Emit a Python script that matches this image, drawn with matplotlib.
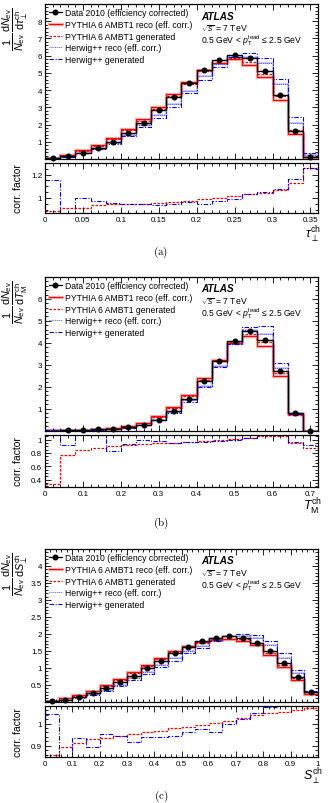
import numpy as np
import matplotlib
matplotlib.use('Agg')
import matplotlib.pyplot as plt
from matplotlib.ticker import MultipleLocator

plt.rcParams['font.family'] = ['Liberation Sans', 'DejaVu Sans']
plt.rcParams['mathtext.fontset'] = 'custom'
plt.rcParams['mathtext.rm'] = 'Liberation Sans'
plt.rcParams['mathtext.it'] = 'Liberation Sans:italic'
plt.rcParams['mathtext.bf'] = 'Liberation Sans:bold'

# ---- (a) transverse thrust tau_perp, 18 bins of 0.02
edges_a = np.linspace(0, 0.36, 19)
data_a = [0.04, 0.15, 0.37, 0.62, 1.0, 1.5, 2.1, 2.82, 3.61, 4.39, 5.15, 5.72, 6.02, 5.84, 5.13, 3.73, 1.64, 0.14]
py_reco_a = [0.06, 0.25, 0.5, 0.8, 1.22, 1.75, 2.35, 3.03, 3.76, 4.48, 5.17, 5.57, 5.8, 5.45, 4.75, 3.44, 1.47, 0.1]
py_gen_a = [0.053, 0.23, 0.46, 0.75, 1.15, 1.66, 2.23, 2.9, 3.63, 4.36, 5.11, 5.57, 5.88, 5.61, 4.95, 3.67, 1.66, 0.13]
hw_reco_a = [0.05, 0.17, 0.33, 0.58, 0.92, 1.38, 1.95, 2.55, 3.2, 3.95, 4.8, 5.5, 5.95, 5.95, 5.6, 4.35, 2.1, 0.26]
hw_gen_a = [0.058, 0.145, 0.33, 0.565, 0.88, 1.31, 1.84, 2.4, 3.04, 3.82, 4.56, 5.36, 5.91, 6.13, 5.89, 4.67, 2.44, 0.33]
corr_py_a = [0.89, 0.914, 0.914, 0.937, 0.946, 0.95, 0.95, 0.957, 0.966, 0.974, 0.989, 1.0, 1.014, 1.03, 1.043, 1.066, 1.13, 1.26]
corr_hw_a = [1.157, 0.85, 1.0, 0.974, 0.957, 0.95, 0.946, 0.943, 0.951, 0.966, 0.951, 0.974, 0.994, 1.03, 1.051, 1.074, 1.16, 1.26]

# ---- (b) thrust minor T_M, 18 bins of 0.04
edges_b = np.linspace(0, 0.72, 19)
data_b = [np.nan, 0.03, 0.03, 0.05, 0.08, 0.14, 0.26, 0.5, 0.88, 1.45, 2.24, 3.17, 4.06, 4.53, 4.12, 2.73, 0.82, 0.0]
py_reco_b = [0.01, 0.02, 0.03, 0.05, 0.1, 0.2, 0.36, 0.66, 1.06, 1.62, 2.38, 3.22, 4.0, 4.3, 3.85, 2.48, 0.75, 0.0]
py_gen_b = [0.003, 0.015, 0.025, 0.044, 0.09, 0.18, 0.34, 0.63, 1.01, 1.56, 2.32, 3.19, 4.02, 4.41, 4.04, 2.6, 0.71, 0.0]
hw_reco_b = [0.01, 0.02, 0.03, 0.04, 0.07, 0.12, 0.24, 0.48, 0.84, 1.38, 2.05, 2.95, 3.95, 4.6, 4.4, 2.85, 0.78, 0.0]
hw_gen_b = [0.012, 0.018, 0.033, 0.043, 0.058, 0.11, 0.24, 0.47, 0.8, 1.32, 1.99, 2.9, 3.95, 4.7, 4.75, 3.08, 0.75, 0.0]
corr_py_b = [0.34, 0.77, 0.84, 0.88, 0.9, 0.92, 0.94, 0.95, 0.955, 0.965, 0.975, 0.99, 1.005, 1.025, 1.05, 1.05, 0.945, 0.875]
corr_hw_b = [1.2, 0.92, 1.1, 1.07, 0.83, 0.935, 1.0, 0.975, 0.95, 0.96, 0.97, 0.985, 1.0, 1.02, 1.08, 1.08, 0.96, 0.92]

# ---- (c) transverse sphericity S_perp, 20 bins of 0.05
edges_c = np.linspace(0, 1.0, 21)
data_c = [0.01, 0.06, 0.13, 0.26, 0.39, 0.57, 0.77, 0.98, 1.2, 1.43, 1.62, 1.78, 1.89, 1.93, 1.87, 1.73, 1.48, 1.15, 0.72, 0.28]
py_reco_c = [0.03, 0.12, 0.2, 0.33, 0.49, 0.68, 0.88, 1.09, 1.3, 1.48, 1.63, 1.75, 1.83, 1.84, 1.8, 1.66, 1.38, 1.03, 0.65, 0.22]
py_gen_c = [0.026, 0.11, 0.18, 0.31, 0.46, 0.64, 0.84, 1.05, 1.26, 1.45, 1.61, 1.74, 1.84, 1.86, 1.85, 1.72, 1.44, 1.08, 0.69, 0.24]
hw_reco_c = [0.03, 0.06, 0.13, 0.23, 0.34, 0.5, 0.7, 0.88, 1.08, 1.28, 1.5, 1.63, 1.87, 1.93, 1.95, 1.88, 1.66, 1.3, 0.84, 0.3]
hw_gen_c = [0.031, 0.05, 0.12, 0.21, 0.32, 0.47, 0.64, 0.83, 1.02, 1.21, 1.44, 1.59, 1.8, 1.93, 1.99, 1.97, 1.79, 1.43, 0.92, 0.33]
corr_py_c = [0.861, 0.897, 0.915, 0.93, 0.937, 0.945, 0.952, 0.96, 0.967, 0.978, 0.985, 0.993, 1.003, 1.013, 1.025, 1.037, 1.046, 1.052, 1.061, 1.07]
corr_hw_c = [1.045, 0.84, 0.936, 0.897, 0.955, 0.945, 0.918, 0.94, 0.94, 0.945, 0.96, 0.975, 0.96, 1.0, 1.022, 1.049, 1.076, 1.1, 1.1, 1.1]

leg_labels = ['Data 2010 (efficiency corrected)', 'PYTHIA 6 AMBT1 reco (eff. corr.)',
              'PYTHIA 6 AMBT1 generated', 'Herwig++ reco (eff. corr.)', 'Herwig++ generated']

W, H = 329., 804.
RED, BLUE = '#ff0000', '#0000ff'
PINK, LBLUE = '#f7b0b0', '#a8a8ff'
py_gen_ls = (0, (2.0, 1.2))
hw_reco_ls = (0, (1.0, 1.0))
hw_gen_ls = (0, (4.0, 1.5, 1.0, 1.5))

panels = [
    dict(edges=edges_a, data=data_a, pyr=py_reco_a, pyg=py_gen_a, hwr=hw_reco_a, hwg=hw_gen_a,
         cpy=corr_py_a, chw=corr_hw_a, main=(5, 160), ratio=(164, 214),
         ylim=(0, 9), yticks=np.arange(1, 9), ymin=0.2, rylim=(0.87, 1.30), ryticks=[1, 1.2], rymin=0.05,
         xmaj=0.05, xmin=0.01, xt=[0, 0.05, 0.1, 0.15, 0.2, 0.25, 0.3, 0.35],
         xtl=['0', '0.05', '0.1', '0.15', '0.2', '0.25', '0.3', '0.35'],
         var=r'\tau_{\perp}^{\mathrm{ch}}', xlab=r'$\tau_{\perp}^{\mathrm{ch}}$', tag='(a)', tagy=252, xlaby=235),
    dict(edges=edges_b, data=data_b, pyr=py_reco_b, pyg=py_gen_b, hwr=hw_reco_b, hwg=hw_gen_b,
         cpy=corr_py_b, chw=corr_hw_b, main=(278, 431.5), ratio=(435.5, 488),
         ylim=(0, 7), yticks=np.arange(1, 7), ymin=0.2, rylim=(0.29, 1.075), ryticks=[0.4, 0.6, 0.8, 1], rymin=0.05,
         xmaj=0.1, xmin=0.02, xt=[0, 0.1, 0.2, 0.3, 0.4, 0.5, 0.6, 0.7],
         xtl=['0', '0.1', '0.2', '0.3', '0.4', '0.5', '0.6', '0.7'],
         var=r'T_{\mathrm{M}}^{\mathrm{ch}}', xlab=r'$T_{\mathrm{M}}^{\mathrm{ch}}$', tag='(b)', tagy=523, xlaby=507),
    dict(edges=edges_c, data=data_c, pyr=py_reco_c, pyg=py_gen_c, hwr=hw_reco_c, hwg=hw_gen_c,
         cpy=corr_py_c, chw=corr_hw_c, main=(550, 702.7), ratio=(706.7, 758),
         ylim=(0, 4.5), yticks=[0.5, 1, 1.5, 2, 2.5, 3, 3.5, 4], ymin=0.1, rylim=(0.85, 1.08), ryticks=[0.9, 1], rymin=0.02,
         xmaj=0.1, xmin=0.02, xt=[0, 0.1, 0.2, 0.3, 0.4, 0.5, 0.6, 0.7, 0.8, 0.9, 1.0],
         xtl=['0', '0.1', '0.2', '0.3', '0.4', '0.5', '0.6', '0.7', '0.8', '0.9', '1'],
         var=r'S_{\perp}^{\mathrm{ch}}', xlab=r'$S_{\perp}^{\mathrm{ch}}$', tag='(c)', tagy=796, xlaby=777),
]

x0, x1 = 45., 318.

def rect(top, bot):
    return [x0 / W, 1 - bot / H, (x1 - x0) / W, (bot - top) / H]

def style(ax):
    ax.tick_params(which='both', direction='in', top=True, right=True, width=0.6, labelsize=5.8, pad=2)
    ax.tick_params(which='major', length=4.5)
    ax.tick_params(which='minor', length=2.3)
    for s in ax.spines.values():
        s.set_linewidth(0.9)

fig = plt.figure(figsize=(W / 100, H / 100), dpi=100)

for p in panels:
    e = p['edges']
    centers = 0.5 * (e[:-1] + e[1:])
    ax = fig.add_axes(rect(*p['main']))
    ax.stairs(p['pyr'], e, baseline=None, color=PINK, lw=2.4)
    ax.stairs(p['hwr'], e, baseline=None, color=LBLUE, lw=1.6, alpha=0.6)
    ax.stairs(p['pyr'], e, baseline=None, color=RED, lw=0.8)
    ax.stairs(p['pyg'], e, baseline=None, color=RED, lw=0.9, ls=py_gen_ls)
    ax.stairs(p['hwr'], e, baseline=None, color='#5050ff', lw=0.7, ls=hw_reco_ls)
    ax.stairs(p['hwg'], e, baseline=None, color=BLUE, lw=0.8, ls=hw_gen_ls)
    ax.stairs(np.nan_to_num(p['data']), e, baseline=None, color='k', lw=1.0)
    ax.plot(centers, p['data'], 'o', color='k', ms=3.3, clip_on=False, zorder=5)
    ax.set_xlim(e[0], e[-1])
    ax.set_ylim(*p['ylim'])
    ax.set_yticks(p['yticks'])
    ax.set_yticklabels([('%g' % v) for v in p['yticks']])
    ax.yaxis.set_minor_locator(MultipleLocator(p['ymin']))
    ax.xaxis.set_major_locator(MultipleLocator(p['xmaj']))
    ax.xaxis.set_minor_locator(MultipleLocator(p['xmin']))
    ax.set_xticklabels([])
    style(ax)

    # legend
    hd = [plt.Line2D([], [], color='k', marker='o', ms=3.3, lw=0.9),
          (plt.Line2D([], [], color=PINK, lw=2.4), plt.Line2D([], [], color=RED, lw=0.8)),
          plt.Line2D([], [], color=RED, lw=0.9, ls=py_gen_ls),
          plt.Line2D([], [], color='#5050ff', lw=0.7, ls=hw_reco_ls),
          plt.Line2D([], [], color=BLUE, lw=0.8, ls=hw_gen_ls)]
    ax.legend(hd, leg_labels, loc='upper left', bbox_to_anchor=(0.0, 1.0), frameon=False,
              fontsize=6.2, handlelength=1.5, handletextpad=0.4, labelspacing=0.33,
              borderaxespad=0.25, borderpad=0.2)

    top, bot = p['main']
    hgt = bot - top
    ax.text(0.571, 1 - 11.5 / hgt, 'ATLAS', transform=ax.transAxes, fontsize=7.2,
            fontweight='bold', fontstyle='italic', va='center')
    ax.text(0.571, 1 - 23.5 / hgt, r'$\sqrt{s}$ = 7 TeV', transform=ax.transAxes, fontsize=6.2, va='center')
    ax.text(0.571, 1 - 35.5 / hgt, r'0.5 GeV < $p_{\mathrm{T}}^{\mathrm{lead}}$ ≤ 2.5 GeV',
            transform=ax.transAxes, fontsize=6.2, va='center')

    fig.text(15.5 / W, 1 - (top + 3) / H,
             r'$\dfrac{1}{N_{\mathrm{ev}}}\,\dfrac{\mathrm{d}N_{\mathrm{ev}}}{\mathrm{d}%s}$' % p['var'],
             rotation=90, ha='center', va='top', fontsize=7.8)

    # ratio panel
    rx = fig.add_axes(rect(*p['ratio']))
    rx.stairs(p['cpy'], e, baseline=None, color=RED, lw=0.9, ls=py_gen_ls)
    rx.stairs(p['chw'], e, baseline=None, color=BLUE, lw=0.8, ls=hw_gen_ls)
    rx.set_xlim(e[0], e[-1])
    rx.set_ylim(*p['rylim'])
    rx.set_yticks(p['ryticks'])
    rx.set_yticklabels([('%g' % v) for v in p['ryticks']])
    rx.yaxis.set_minor_locator(MultipleLocator(p['rymin']))
    rx.set_xticks(p['xt'])
    rx.set_xticklabels(p['xtl'])
    rx.xaxis.set_minor_locator(MultipleLocator(p['xmin']))
    style(rx)
    rtop, rbot = p['ratio']
    fig.text(18 / W, 1 - (0.5 * (rtop + rbot)) / H, 'corr. factor', rotation=90,
             ha='center', va='center', fontsize=7.5)
    fig.text(313 / W, 1 - p['xlaby'] / H, p['xlab'], ha='center', va='center', fontsize=9)
    fig.text(161 / W, 1 - p['tagy'] / H, r'$\mathrm{%s}$' % p['tag'], ha='center', va='center',
             fontsize=8, math_fontfamily='cm')

fig.savefig('out.png', dpi=100)
